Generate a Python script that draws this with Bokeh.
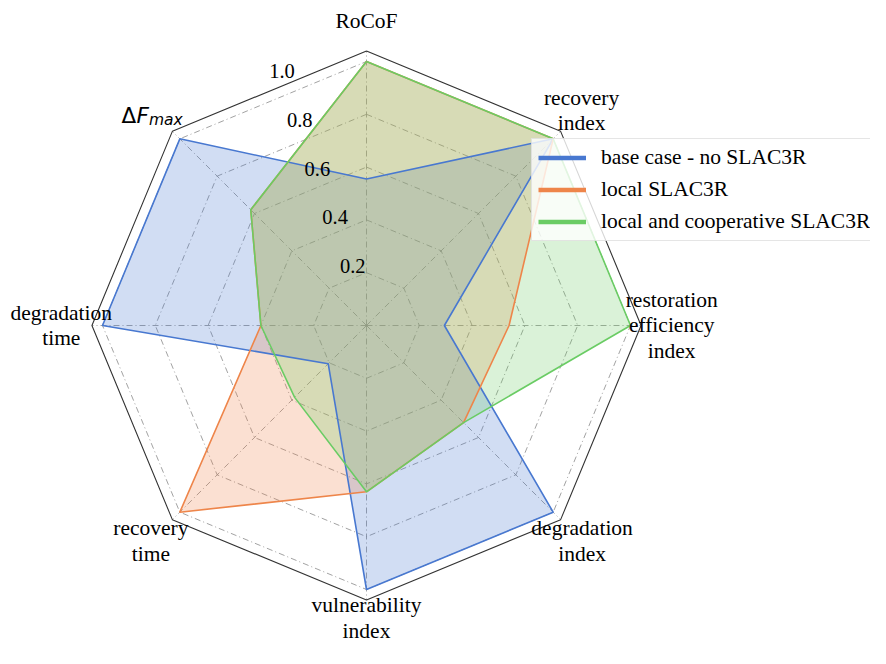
import numpy as np
from bokeh.plotting import figure
from bokeh.models import Range1d, Legend, LegendItem
from bokeh.core.properties import value
from bokeh.embed import file_html
from bokeh.resources import INLINE

# ---- data ----
categories = ["RoCoF", "recovery\nindex", "restoration\nefficiency\nindex",
              "degradation\nindex", "vulnerability\nindex", "recovery\ntime",
              "degradation\ntime", "ΔF_max"]
base_case = [0.555, 1.0, 0.295, 1.0, 1.0, 0.205, 1.0, 1.0]
local_slac = [1.0, 1.0, 0.54, 0.52, 0.63, 1.0, 0.40, 0.62]
coop_slac = [1.0, 1.0, 1.0, 0.52, 0.63, 0.385, 0.40, 0.62]
series_names = ["base case - no SLAC3R", "local SLAC3R", "local and cooperative SLAC3R"]
series_colors = ["#4878d0", "#ee854a", "#6acc64"]
tick_values = [0.2, 0.4, 0.6, 0.8, 1.0]
tick_labels = ["0.2", "0.4", "0.6", "0.8", "1.0"]
r_frame = 1.04
label_r = [1.155, 1.152, 1.156, 1.155, 1.108, 1.155, 1.156, 1.155]

n = len(categories)
theta = np.pi / 2 - np.arange(n) * 2 * np.pi / n


def polar(r):
    r = np.asarray(r, dtype=float)
    return r * np.cos(theta), r * np.sin(theta)


def closed(a):
    a = list(a)
    return a + [a[0]]


W, H = 870, 648
scale = 264.0
cx, cy = 366, 325
p = figure(width=W, height=H,
           x_range=Range1d(-cx / scale, (W - cx) / scale),
           y_range=Range1d(-(H - cy) / scale, cy / scale),
           output_backend="svg", toolbar_location=None,
           x_axis_location=None, y_axis_location=None,
           min_border=0, outline_line_color=None)
p.grid.visible = False
p.background_fill_color = "white"
p.border_fill_color = "white"

GRID = "#8a8a8a"
# grid octagons
gx, gy = [], []
for v in tick_values:
    x, y = polar([v] * n)
    gx.append(closed(x))
    gy.append(closed(y))
p.multi_line(gx, gy, line_color=GRID, line_width=0.8, line_dash="6 3 1 3")

# spokes
fx, fy = polar([r_frame] * n)
p.multi_line([[0, a] for a in fx], [[0, b] for b in fy],
             line_color=GRID, line_width=0.8, line_dash="6 3 1 3")

# frame
p.line(closed(fx), closed(fy), line_color="#333333", line_width=1.1)

# series
series = [base_case, local_slac, coop_slac]
for vals, col in zip(series, series_colors):
    x, y = polar(vals)
    p.patch(closed(x), closed(y), fill_color=col, fill_alpha=0.25, line_color=None)
for vals, col in zip(series, series_colors):
    x, y = polar(vals)
    p.line(closed(x), closed(y), line_color=col, line_width=1.6)

# tick labels
tang = np.deg2rad(110.0)
tv = np.asarray(tick_values) * 0.98
p.text(tv * np.cos(tang), tv * np.sin(tang), text=tick_labels,
       x_offset=4, y_offset=-11,
       text_font=value("Liberation Serif"), text_font_size="20.5px",
       text_align="center", text_baseline="middle", text_color="black")

# category labels
lx, ly = polar(label_r)
p.text(lx[:-1], ly[:-1], text=categories[:-1],
       text_font=value("Liberation Serif"), text_font_size="21.5px",
       text_align="center", text_baseline="middle", text_line_height=1.06,
       text_color="black")

# Delta F_max label (composite)
main, sub = categories[-1].split("_")
ax, ay = lx[-1], ly[-1]
p.text([ax], [ay], text=[main[0]], x_offset=-29.5, y_offset=6,
       text_font=value("DejaVu Sans"), text_font_size="21.5px",
       text_align="left", text_baseline="alphabetic", text_color="black")
p.text([ax], [ay], text=[main[1:]], x_offset=-14.5, y_offset=6,
       text_font=value("DejaVu Sans"), text_font_style="italic", text_font_size="21.5px",
       text_align="left", text_baseline="alphabetic", text_color="black")
p.text([ax], [ay], text=[sub], x_offset=-2, y_offset=10.5,
       text_font=value("DejaVu Sans"), text_font_style="italic", text_font_size="15.5px",
       text_align="left", text_baseline="alphabetic", text_color="black")

# legend (thick zero-length handles so only the legend shows them)
items = []
for name, col, vals in zip(series_names, series_colors, series):
    x, y = polar(vals)
    r = p.line([x[0], x[0]], [y[0], y[0]], line_color=col, line_width=4.5, line_cap="butt")
    items.append(LegendItem(label=name, renderers=[r]))
legend = Legend(items=items, location=(531, 407), margin=0, padding=6,
                spacing=7, glyph_width=48, glyph_height=23, label_height=23,
                label_standoff=15,
                label_text_font="Liberation Serif", label_text_font_size="21.5px",
                label_text_color="black",
                background_fill_color="white", background_fill_alpha=0.8,
                border_line_color="#cccccc", border_line_width=1)
p.add_layout(legend)

open("out.html", "w").write(file_html(p, INLINE))
